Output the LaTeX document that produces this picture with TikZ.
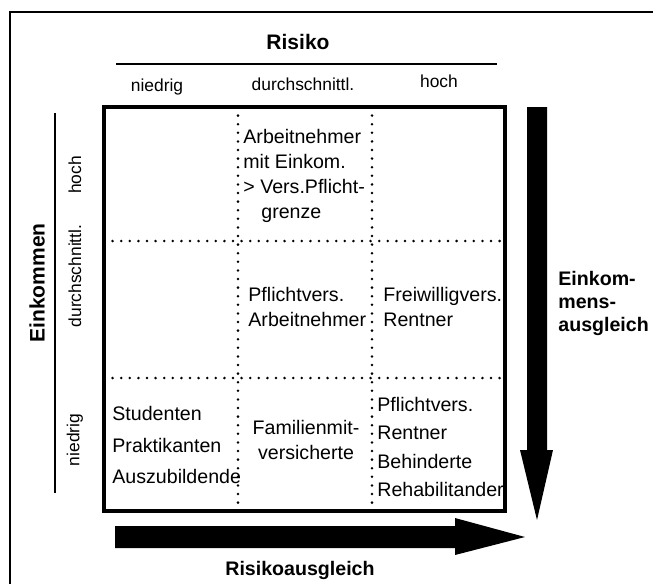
\documentclass[tikz,border=0pt]{standalone}
\usepackage{fontspec}
\setmainfont{Liberation Sans}
\usepackage{tikz}
\tikzset{
  zelle/.style={
    inner sep=0pt,
    align=left,
    font=\fontsize{9.8}{12.4}\selectfont},
  stufe/.style={inner sep=0pt, font=\fontsize{8.7}{10}\selectfont},
  titel/.style={inner sep=0pt, font=\bfseries\fontsize{10.5}{12}\selectfont},
  ausgleich/.style={
    inner sep=0pt,
    align=left,
    font=\bfseries\fontsize{9.8}{11.5}\selectfont},
  punkte/.style={line width=1.4pt, line cap=round, dash pattern=on 0pt off 4.3pt},
  rahmen/.style={line width=1pt},
  feldrand/.style={line width=1.9pt},
}

\begin{document}
\begin{tikzpicture}[x=0.5pt,y=-0.5pt]
    \useasboundingbox (0,0) rectangle (653,584);
    \draw[rahmen] (10,584) -- (10,12) -- (653,12);

    % Risiko
    \node[titel] (risiko) at (298,42) {Risiko};
    \draw[rahmen] (116,64) -- (497,64);
    \node[stufe] (rniedrig) at (157,87) {niedrig};
    \node[stufe] (rmittel) at (303,84) {durchschnittl.};
    \node[stufe] (rhoch) at (439,81) {hoch};

    % Einkommen
    \node[titel, rotate=90] (einkommen) at (37,283) {Einkommen};
    \draw[rahmen] (55,113) -- (55,493);
    \node[stufe, rotate=90] (ehoch) at (75,175) {hoch};
    \node[stufe, rotate=90] (emittel) at (75,276) {durchschnittl.};
    \node[stufe, rotate=90] (eniedrig) at (75,440) {niedrig};

    \draw[punkte] (238,107) -- (238,511);
    \draw[punkte] (372,107) -- (372,511);
    \draw[punkte] (104,241) -- (505,241);
    \draw[punkte] (104,378) -- (505,378);
    \draw[feldrand] (104,107) rectangle (505,511);

    \node[zelle, anchor=west] (hochmittel) at (243,176)
      {Arbeitnehmer\\mit Einkom.\\> Vers.Pflicht-\\\hspace*{9pt}grenze};
    \node[zelle, anchor=west] (mittelmittel) at (248,307) {Pflichtvers.\\Arbeitnehmer};
    \node[zelle, anchor=west] (mittelhoch) at (383,307) {Freiwilligvers.\\Rentner};
    \node[zelle, anchor=west, font=\fontsize{9.8}{15.7}\selectfont] (niedrigniedrig)
      at (112,445) {Studenten\\Praktikanten\\Auszubildende};
    \node[zelle, align=center] (niedrigmittel) at (306,440) {Familienmit-\\versicherte};
    \node[zelle, anchor=west, font=\fontsize{9.8}{14.2}\selectfont] (niedrighoch)
      at (377,447) {Pflichtvers.\\Rentner\\Behinderte\\Rehabilitander};

    \fill (527,107) -- (547,107) -- (547,450) -- (553,450) -- (537,520)
      -- (520,450) -- (527,450) -- cycle;
    \fill (115,526) -- (455,526) -- (455,518) -- (525,537) -- (455,555)
      -- (455,548) -- (115,548) -- cycle;

    \node[ausgleich, anchor=west] (einkausgleich) at (558,303)
      {Einkom-\\mens-\\ausgleich};
    \node[ausgleich] (risikoausgleich) at (300,570) {Risikoausgleich};
\end{tikzpicture}
\end{document}
